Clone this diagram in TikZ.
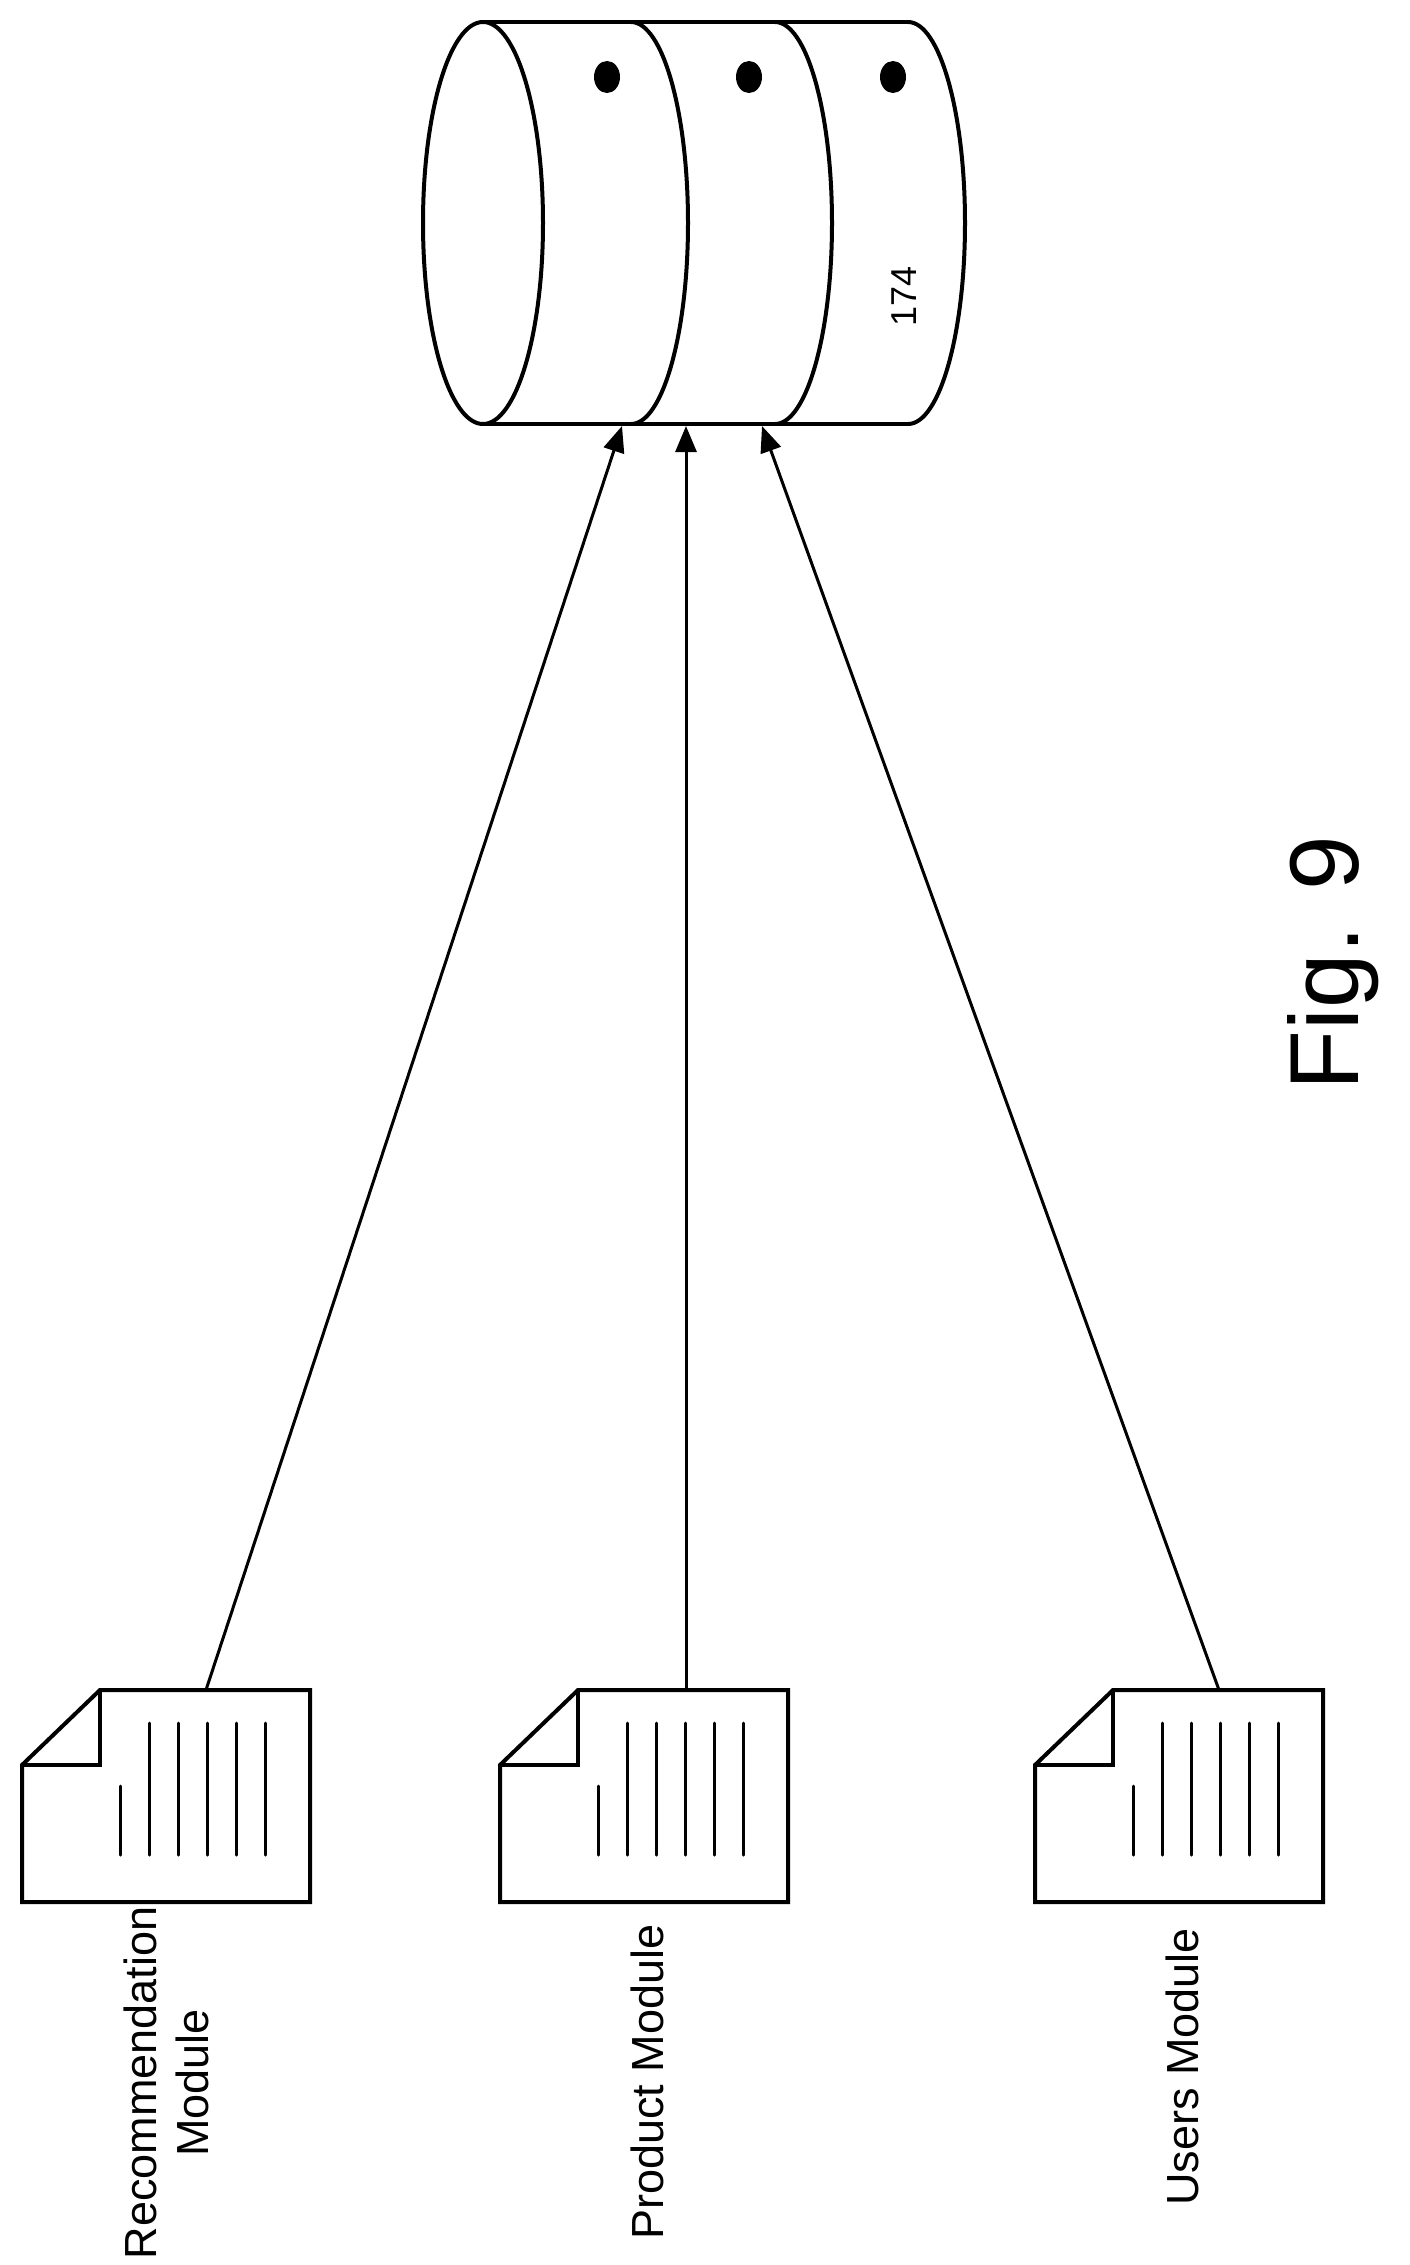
\documentclass[tikz,border=0pt]{standalone}
\usepackage{fontspec}
\setmainfont{Liberation Sans}
\usetikzlibrary{arrows.meta}
\tikzset{
  thick line/.style={line width=4pt},
  conn/.style={line width=3pt,-{Triangle[length=26pt,width=21pt]}},
  docline/.style={line width=3pt,line cap=round},
  lbl/.style={rotate=90,font=\fontsize{45pt}{52pt}\selectfont,align=center,inner sep=0pt},
}
\newcommand{\docicon}[2]{%
  \draw[thick line,line join=miter] (#1+78,#2) -- (#1+288,#2) -- (#1+288,#2+212) -- (#1,#2+212) -- (#1,#2+75) -- cycle;
  \draw[thick line] (#1,#2+75) -- (#1+78,#2+75) -- (#1+78,#2);
  \draw[docline] (#1+98,#2+96) -- (#1+98,#2+165);
  \foreach \k in {127,156,185,214,243}{\draw[docline] (#1+\k,#2+33) -- (#1+\k,#2+165);}
}
\begin{document}
\begin{tikzpicture}[x=1pt,y=-1pt]
\useasboundingbox (0,0) rectangle (1410,2265);
% cylinder
\draw[thick line] (483,22) -- (908,22);
\draw[thick line] (483,424) -- (908,424);
\draw[thick line] (483,223) ellipse [x radius=60,y radius=201];
\foreach \c in {631,775,908}{\draw[thick line] (\c,22) arc[start angle=-90,end angle=90,x radius=57,y radius=201];}
\foreach \c in {607,749,893}{\fill (\c,77) ellipse [x radius=13,y radius=16];}
\node[rotate=90,font=\fontsize{36pt}{40pt}\selectfont,inner sep=0pt] (num) at (904,296) {174};
\coordinate (db1) at (622,426);
\coordinate (db2) at (686,426);
\coordinate (db3) at (762,426);
% documents
\docicon{22}{1690}
\docicon{500}{1690}
\docicon{1035}{1690}
\coordinate (d1) at (206,1690);
\coordinate (d2) at (686,1690);
\coordinate (d3) at (1219,1690);
\draw[conn] (d1) -- (db1);
\draw[conn] (d2) -- (db2);
\draw[conn] (d3) -- (db3);
\node[lbl] (l1) at (166,2083) {Recommendation\\Module};
\node[lbl] (l2) at (647,2082) {Product Module};
\node[lbl] (l3) at (1182,2067) {Users Module};
\node[rotate=90,font=\fontsize{98pt}{110pt}\selectfont,inner sep=0pt] (fig) at (1333,963) {Fig. 9};
\end{tikzpicture}
\end{document}
